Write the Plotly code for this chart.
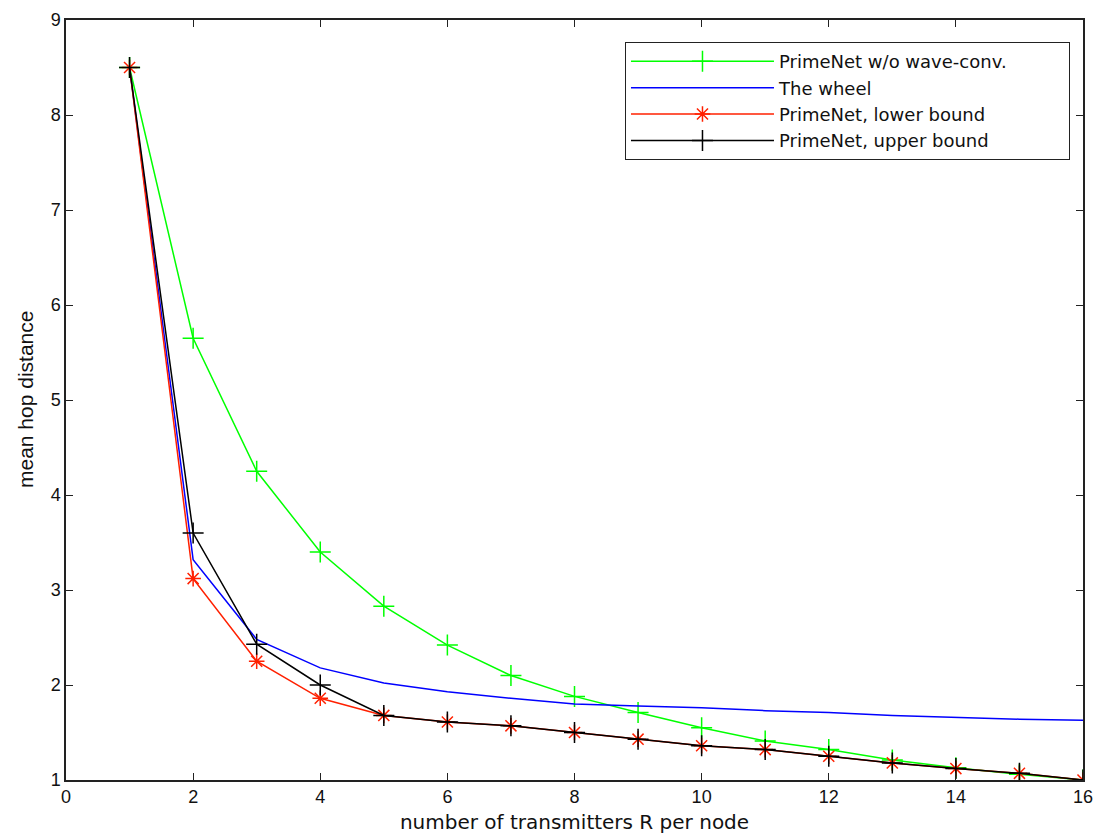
import plotly.graph_objects as go

x = list(range(1, 17))
green_y = [8.5, 5.65, 4.25, 3.40, 2.83, 2.42, 2.10, 1.88, 1.71, 1.55, 1.41, 1.32, 1.21, 1.13, 1.06, 1.0]
wheel_y = [8.5, 3.32, 2.48, 2.18, 2.02, 1.93, 1.86, 1.80, 1.78, 1.76, 1.73, 1.71, 1.68, 1.66, 1.64, 1.63]
lower_y = [8.5, 3.12, 2.25, 1.86, 1.68, 1.61, 1.57, 1.50, 1.43, 1.36, 1.32, 1.25, 1.18, 1.12, 1.07, 1.0]
upper_y = [8.5, 3.60, 2.43, 2.00, 1.68, 1.61, 1.57, 1.50, 1.43, 1.36, 1.32, 1.25, 1.18, 1.12, 1.07, 1.0]

names = ["PrimeNet w/o wave-conv.", "The wheel", "PrimeNet, lower bound", "PrimeNet, upper bound"]
x_ticks = [0, 2, 4, 6, 8, 10, 12, 14, 16]
y_ticks = [1, 2, 3, 4, 5, 6, 7, 8, 9]
x_title = "number of transmitters R per node"
y_title = "mean hop distance"

FONT = "Liberation Sans, Arial, Helvetica"
WIDE = "DejaVu Sans, Liberation Sans, Arial"
PAD = "\u00a0" * 10

fig = go.Figure()
fig.add_trace(go.Scatter(x=x, y=green_y, name=names[0] + PAD, mode="lines+markers",
                         line=dict(color="#00ff00", width=1.5),
                         marker=dict(symbol="cross-thin-open", size=15, line=dict(color="#00ff00", width=1.5))))
fig.add_trace(go.Scatter(x=x, y=wheel_y, name=names[1], mode="lines",
                         line=dict(color="#0000ff", width=1.5)))
fig.add_trace(go.Scatter(x=x, y=lower_y, name=names[2], mode="lines+markers",
                         line=dict(color="#ff2000", width=1.5),
                         marker=dict(symbol="asterisk-open", size=13, line=dict(color="#ff2000", width=1.5))))
fig.add_trace(go.Scatter(x=x, y=upper_y, name=names[3], mode="lines+markers",
                         line=dict(color="#000000", width=1.5),
                         marker=dict(symbol="cross-thin-open", size=15, line=dict(color="#000000", width=1.5))))

axis_common = dict(showgrid=False, zeroline=False, ticks="inside", mirror="ticks",
                   showline=True, linecolor="#222222", linewidth=1.5, ticklen=7,
                   tickcolor="#222222", tickfont=dict(family=FONT, size=18, color="#111111"))

fig.update_layout(
    width=1095, height=834,
    margin=dict(l=66, r=12, t=20, b=54),
    plot_bgcolor="white", paper_bgcolor="white",
    xaxis=dict(range=[0, 16], tickvals=x_ticks, automargin=False,
               title=dict(text=x_title, standoff=9,
                          font=dict(family=WIDE, size=20, color="#111111")),
               **axis_common),
    yaxis=dict(range=[1, 9], tickvals=y_ticks, automargin=False, **axis_common),
    legend=dict(x=0.9872, y=0.971, xanchor="right", yanchor="top",
                bordercolor="#222222", borderwidth=1, bgcolor="white",
                itemwidth=143, tracegroupgap=0,
                font=dict(family=WIDE, size=18, color="#111111")),
    showlegend=True,
    annotations=[dict(text=y_title, textangle=-90, xref="paper", yref="paper",
                      x=-0.0403, y=0.5, xanchor="center", yanchor="middle", showarrow=False,
                      font=dict(family=FONT, size=21, color="#111111"))],
)

fig.write_html("out.html", config={"displayModeBar": False},
               post_script="document.body.style.margin='0';document.body.style.overflow='hidden';")
